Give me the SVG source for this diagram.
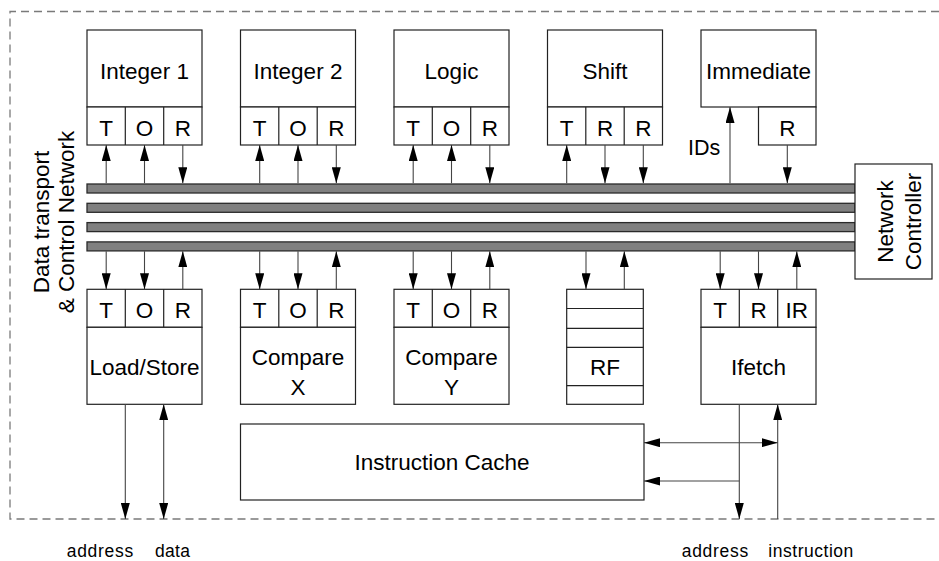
<svg xmlns="http://www.w3.org/2000/svg" width="939" height="561" viewBox="0 0 939 561">
  <defs>
    <style>
      .box { fill: #fff; stroke: #222; stroke-width: 1.2; }
      .div { stroke: #222; stroke-width: 1.2; fill: none; }
      .lbl { font-family: "Liberation Sans", Arial, sans-serif; font-size: 22.5px; fill: #000; text-anchor: middle; }
      .io { font-family: "Liberation Sans", Arial, sans-serif; font-size: 17.5px; fill: #000; }
      .bus { fill: #808080; stroke: #2a2a2a; stroke-width: 1.3; }
      .wire { stroke: #444; stroke-width: 1.1; fill: none; }
      .frame { stroke: #7a7a7a; stroke-width: 1.3; fill: none; stroke-dasharray: 8 5; }
    </style>
    <marker id="head" viewBox="0 0 16 9" refX="16" refY="4.5" markerWidth="16" markerHeight="9" markerUnits="userSpaceOnUse" orient="auto-start-reverse">
      <path d="M0,0 L16,4.5 L0,9 z" fill="#000"/>
    </marker>
  </defs>

  <!-- processor boundary -->
  <path class="frame" d="M939,11.5 H10 V519 H939"/>

  <!-- interconnect buses -->
  <g id="buses">
    <rect class="bus" x="87" y="184" width="768" height="9"/>
    <rect class="bus" x="87" y="203.3" width="768" height="9"/>
    <rect class="bus" x="87" y="222.6" width="768" height="9"/>
    <rect class="bus" x="87" y="241.9" width="768" height="9"/>
  </g>

  <g id="network-label">
    <text class="lbl" transform="translate(48.5,222) rotate(-90)">Data transport</text>
    <text class="lbl" transform="translate(73.5,222) rotate(-90)">&amp; Control Network</text>
  </g>

  <!-- top row of function units -->
  <g id="integer1">
    <rect class="box" x="87" y="30" width="115" height="77"/>
    <rect class="box" x="87" y="107" width="115" height="38"/>
    <path class="div" d="M125.3,107 V145 M163.7,107 V145"/>
    <text class="lbl" x="144.5" y="79">Integer 1</text>
    <text class="lbl" x="106.2" y="136">T</text>
    <text class="lbl" x="144.5" y="136">O</text>
    <text class="lbl" x="182.8" y="136">R</text>
  </g>
  <g id="integer2">
    <rect class="box" x="240.5" y="30" width="115" height="77"/>
    <rect class="box" x="240.5" y="107" width="115" height="38"/>
    <path class="div" d="M278.8,107 V145 M317.2,107 V145"/>
    <text class="lbl" x="298" y="79">Integer 2</text>
    <text class="lbl" x="259.7" y="136">T</text>
    <text class="lbl" x="298" y="136">O</text>
    <text class="lbl" x="336.3" y="136">R</text>
  </g>
  <g id="logic">
    <rect class="box" x="394" y="30" width="115" height="77"/>
    <rect class="box" x="394" y="107" width="115" height="38"/>
    <path class="div" d="M432.3,107 V145 M470.7,107 V145"/>
    <text class="lbl" x="451.5" y="79">Logic</text>
    <text class="lbl" x="413.2" y="136">T</text>
    <text class="lbl" x="451.5" y="136">O</text>
    <text class="lbl" x="489.8" y="136">R</text>
  </g>
  <g id="shift">
    <rect class="box" x="547.5" y="30" width="115" height="77"/>
    <rect class="box" x="547.5" y="107" width="115" height="38"/>
    <path class="div" d="M585.8,107 V145 M624.2,107 V145"/>
    <text class="lbl" x="605" y="79">Shift</text>
    <text class="lbl" x="566.7" y="136">T</text>
    <text class="lbl" x="605" y="136">R</text>
    <text class="lbl" x="643.3" y="136">R</text>
  </g>
  <g id="immediate">
    <rect class="box" x="701" y="30" width="115" height="77"/>
    <rect class="box" x="758.5" y="107" width="57.5" height="38"/>
    <text class="lbl" x="758.5" y="79">Immediate</text>
    <text class="lbl" x="787.3" y="136">R</text>
  </g>

  <g id="network-controller">
    <rect class="box" x="855" y="164" width="77" height="115"/>
    <text class="lbl" transform="translate(893,221.5) rotate(-90)">Network</text>
    <text class="lbl" transform="translate(921,221.5) rotate(-90)">Controller</text>
  </g>

  <!-- bottom row of function units -->
  <g id="load-store">
    <rect class="box" x="87" y="289.3" width="115" height="38"/>
    <rect class="box" x="87" y="327.3" width="115" height="77"/>
    <path class="div" d="M125.3,289.3 V327.3 M163.7,289.3 V327.3"/>
    <text class="lbl" x="106.2" y="317.5">T</text>
    <text class="lbl" x="144.5" y="317.5">O</text>
    <text class="lbl" x="182.8" y="317.5">R</text>
    <text class="lbl" x="144.5" y="375">Load/Store</text>
  </g>
  <g id="compare-x">
    <rect class="box" x="240.5" y="289.3" width="115" height="38"/>
    <rect class="box" x="240.5" y="327.3" width="115" height="77"/>
    <path class="div" d="M278.8,289.3 V327.3 M317.2,289.3 V327.3"/>
    <text class="lbl" x="259.7" y="317.5">T</text>
    <text class="lbl" x="298" y="317.5">O</text>
    <text class="lbl" x="336.3" y="317.5">R</text>
    <text class="lbl" x="298" y="365">Compare</text>
    <text class="lbl" x="298" y="395">X</text>
  </g>
  <g id="compare-y">
    <rect class="box" x="394" y="289.3" width="115" height="38"/>
    <rect class="box" x="394" y="327.3" width="115" height="77"/>
    <path class="div" d="M432.3,289.3 V327.3 M470.7,289.3 V327.3"/>
    <text class="lbl" x="413.2" y="317.5">T</text>
    <text class="lbl" x="451.5" y="317.5">O</text>
    <text class="lbl" x="489.8" y="317.5">R</text>
    <text class="lbl" x="451.5" y="365">Compare</text>
    <text class="lbl" x="451.5" y="395">Y</text>
  </g>
  <g id="register-file">
    <rect class="box" x="566.7" y="289.3" width="76.6" height="115"/>
    <path class="div" d="M566.7,308.5 H643.3 M566.7,328.3 H643.3 M566.7,347.3 H643.3 M566.7,385.7 H643.3"/>
    <text class="lbl" x="605" y="375">RF</text>
  </g>
  <g id="ifetch">
    <rect class="box" x="701" y="289.3" width="115" height="38"/>
    <rect class="box" x="701" y="327.3" width="115" height="77"/>
    <path class="div" d="M739.3,289.3 V327.3 M777.7,289.3 V327.3"/>
    <text class="lbl" x="720.2" y="317.5">T</text>
    <text class="lbl" x="758.5" y="317.5">R</text>
    <text class="lbl" x="796.8" y="317.5">IR</text>
    <text class="lbl" x="758.5" y="375">Ifetch</text>
  </g>
  <g id="instruction-cache">
    <rect class="box" x="240.5" y="424" width="403.5" height="76"/>
    <text class="lbl" x="442" y="470">Instruction Cache</text>
  </g>

  <!-- connectors -->
  <g id="connectors">
    <!-- top row: bus to/from units -->
    <path class="wire" marker-end="url(#head)" d="M106.2,183.3 V145"/>
    <path class="wire" marker-end="url(#head)" d="M144.5,183.3 V145"/>
    <path class="wire" marker-end="url(#head)" d="M182.8,145 V183.3"/>
    <path class="wire" marker-end="url(#head)" d="M259.7,183.3 V145"/>
    <path class="wire" marker-end="url(#head)" d="M298,183.3 V145"/>
    <path class="wire" marker-end="url(#head)" d="M336.3,145 V183.3"/>
    <path class="wire" marker-end="url(#head)" d="M413.2,183.3 V145"/>
    <path class="wire" marker-end="url(#head)" d="M451.5,183.3 V145"/>
    <path class="wire" marker-end="url(#head)" d="M489.8,145 V183.3"/>
    <path class="wire" marker-end="url(#head)" d="M566.7,183.3 V145"/>
    <path class="wire" marker-end="url(#head)" d="M605,145 V183.3"/>
    <path class="wire" marker-end="url(#head)" d="M643.3,145 V183.3"/>
    <path class="wire" marker-end="url(#head)" d="M730,183.3 V107"/>
    <path class="wire" marker-end="url(#head)" d="M787.3,145 V183.3"/>
    <!-- bottom row -->
    <path class="wire" marker-end="url(#head)" d="M106.2,251.2 V289.3"/>
    <path class="wire" marker-end="url(#head)" d="M144.5,251.2 V289.3"/>
    <path class="wire" marker-end="url(#head)" d="M182.8,289.3 V251.2"/>
    <path class="wire" marker-end="url(#head)" d="M259.7,251.2 V289.3"/>
    <path class="wire" marker-end="url(#head)" d="M298,251.2 V289.3"/>
    <path class="wire" marker-end="url(#head)" d="M336.3,289.3 V251.2"/>
    <path class="wire" marker-end="url(#head)" d="M413.2,251.2 V289.3"/>
    <path class="wire" marker-end="url(#head)" d="M451.5,251.2 V289.3"/>
    <path class="wire" marker-end="url(#head)" d="M489.8,289.3 V251.2"/>
    <path class="wire" marker-end="url(#head)" d="M586,251.2 V289.3"/>
    <path class="wire" marker-end="url(#head)" d="M624.3,289.3 V251.2"/>
    <path class="wire" marker-end="url(#head)" d="M720.2,251.2 V289.3"/>
    <path class="wire" marker-end="url(#head)" d="M758.5,251.2 V289.3"/>
    <path class="wire" marker-end="url(#head)" d="M796.8,289.3 V251.2"/>
    <!-- memory ports -->
    <path class="wire" marker-end="url(#head)" d="M125.3,404.3 V519"/>
    <path class="wire" marker-start="url(#head)" marker-end="url(#head)" d="M163.7,404.3 V519"/>
    <path class="wire" marker-end="url(#head)" d="M739.3,404.3 V519"/>
    <path class="wire" marker-end="url(#head)" d="M777.7,519 V404.3"/>
    <path class="wire" marker-start="url(#head)" marker-end="url(#head)" d="M644,442.7 H777.7"/>
    <path class="wire" marker-end="url(#head)" d="M739.3,481 H644"/>
  </g>

  <text class="lbl" x="688" y="155" style="text-anchor:start;font-size:21.5px">IDs</text>

  <g id="io-labels">
    <text class="io" x="66.7" y="557" textLength="66.6" lengthAdjust="spacing">address</text>
    <text class="io" x="155" y="557" textLength="35" lengthAdjust="spacing">data</text>
    <text class="io" x="681.7" y="557" textLength="66.6" lengthAdjust="spacing">address</text>
    <text class="io" x="768.3" y="557" textLength="85" lengthAdjust="spacing">instruction</text>
  </g>
</svg>
